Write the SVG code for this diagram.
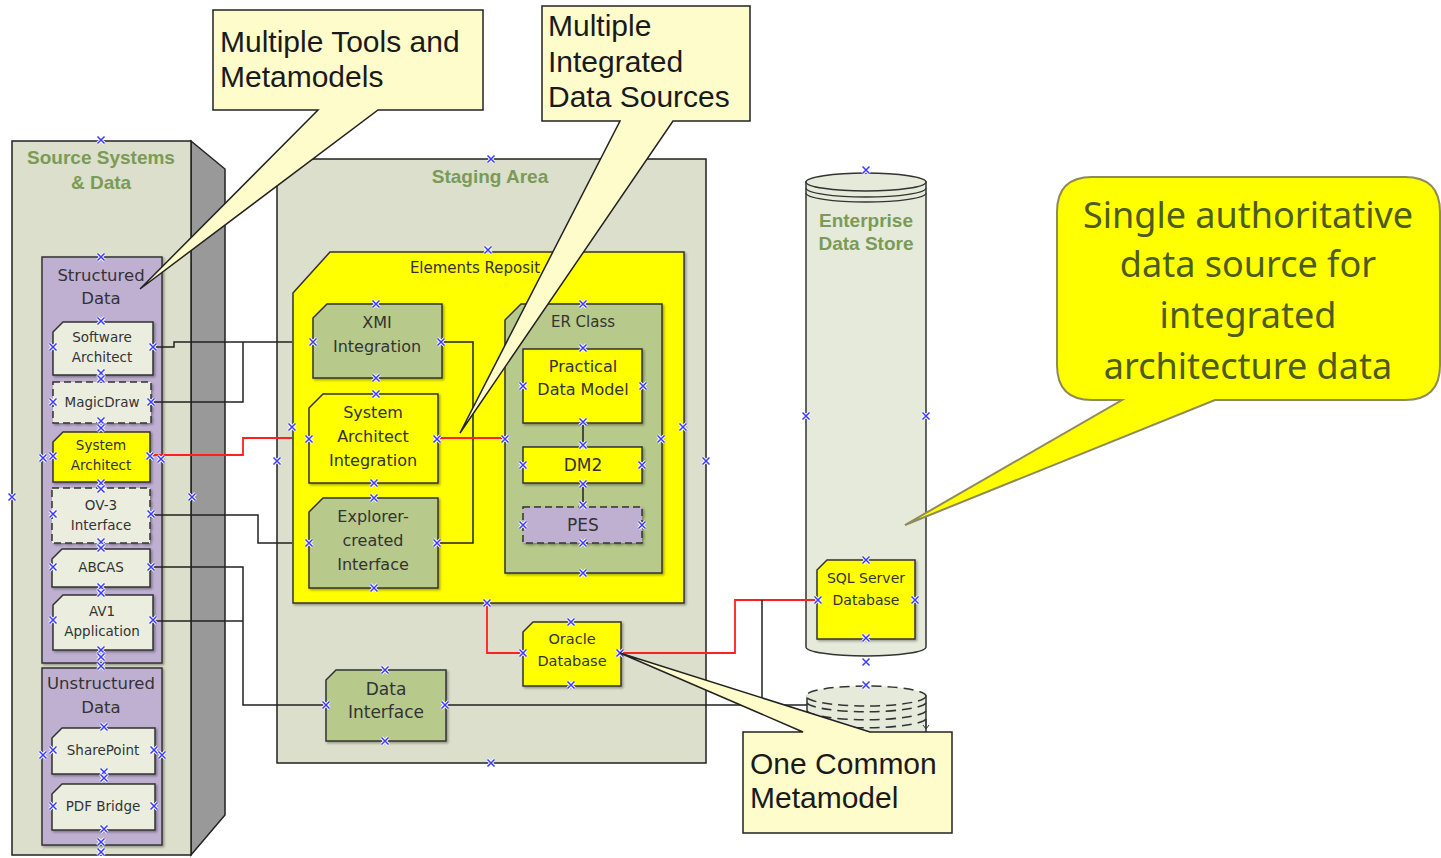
<svg xmlns="http://www.w3.org/2000/svg" xmlns:xlink="http://www.w3.org/1999/xlink" width="1441" height="858" viewBox="0 0 1441 858">
<defs>
<style>
.box{stroke:#333;stroke-width:1.5}
.lt{fill:#ebeedf}
.yl{fill:#ffff00}
.gr{fill:#b7c98b}
.lv{fill:#bfb0d2}
.dash{stroke-dasharray:7 4}
.t{font-family:"DejaVu Sans",Verdana,sans-serif;fill:#333;text-anchor:middle}
.s{font-size:13.5px}
.m{font-size:16px}
.ttl{font-family:"Liberation Sans",Arial,sans-serif;font-weight:bold;font-size:19px;fill:#7a9b57;text-anchor:middle}
.co{font-family:"Liberation Sans",Arial,sans-serif;font-size:30px;fill:#1a1a1a}
.big{font-family:"Noto Sans","Open Sans",sans-serif;font-size:36px;fill:#4d5b1e;text-anchor:middle}
.cn{fill:none;stroke:#222;stroke-width:1.5}
.rd{fill:none;stroke:#ff2020;stroke-width:1.8}
.call{fill:#fffccc;stroke:#222;stroke-width:1.5}
</style>
<filter id="sh" x="-10%" y="-10%" width="130%" height="130%"><feDropShadow dx="1.5" dy="1.5" stdDeviation="0.8" flood-color="#000" flood-opacity="0.35"/></filter>
<g id="mk"><path d="M-3.5,-3.5L3.5,3.5M-3.5,3.5L3.5,-3.5" stroke="#fff" stroke-width="3.2"/><path d="M-3.5,-3.5L3.5,3.5M-3.5,3.5L3.5,-3.5" stroke="#3b3bff" stroke-width="1.5"/></g>
</defs>
<rect width="1441" height="858" fill="#fff"/>

<g id="source-systems">
<polygon points="191,141 225,169 225,815 191,855" fill="#999" stroke="#222" stroke-width="1.5"/>
<rect x="12" y="141" width="179" height="714" fill="#dcdfcb" stroke="#222" stroke-width="1.5"/>
<text class="ttl" x="101" y="164">Source Systems</text>
<text class="ttl" x="101" y="189">&amp; Data</text>
</g>

<g id="structured-data">
<rect class="box lv" x="42" y="257" width="120" height="406" filter="url(#sh)"/>
<text class="t" style="font-size:16.5px" x="101" y="281">Structured</text>
<text class="t" style="font-size:16.5px" x="101" y="304">Data</text>
</g>
<g id="software-architect">
<path class="box lt" d="M53,332L63,322H153V375H53Z" filter="url(#sh)"/>
<text class="t s" x="102" y="342">Software</text><text class="t s" x="102" y="362">Architect</text>
</g>
<g id="magicdraw">
<rect class="box lt dash" x="53" y="382" width="98" height="41" filter="url(#sh)"/>
<text class="t s" x="102" y="407">MagicDraw</text>
</g>
<g id="system-architect">
<path class="box yl" d="M53,442L63,432H150V482H53Z" filter="url(#sh)"/>
<text class="t s" x="101" y="450">System</text><text class="t s" x="101" y="470">Architect</text>
</g>
<g id="ov3-interface">
<rect class="box lt dash" x="52" y="488" width="98" height="55" filter="url(#sh)"/>
<text class="t s" x="101" y="510">OV-3</text><text class="t s" x="101" y="530">Interface</text>
</g>
<g id="abcas">
<path class="box lt" d="M52,559L62,549H150V587H52Z" filter="url(#sh)"/>
<text class="t s" x="101" y="572">ABCAS</text>
</g>
<g id="av1-application">
<path class="box lt" d="M53,605L63,595H153V650H53Z" filter="url(#sh)"/>
<text class="t s" x="102" y="616">AV1</text><text class="t s" x="102" y="636">Application</text>
</g>
<g id="unstructured-data">
<rect class="box lv" x="42" y="668" width="120" height="177" filter="url(#sh)"/>
<text class="t" style="font-size:16.5px" x="101" y="689">Unstructured</text>
<text class="t" style="font-size:16.5px" x="101" y="713">Data</text>
</g>
<g id="sharepoint">
<path class="box lt" d="M52,738L62,728H155V774H52Z" filter="url(#sh)"/>
<text class="t s" x="103" y="755">SharePoint</text>
</g>
<g id="pdf-bridge">
<path class="box lt" d="M52,794L62,784H155V830H52Z" filter="url(#sh)"/>
<text class="t s" x="103" y="811">PDF Bridge</text>
</g>

<g id="staging-area">
<rect x="277" y="159" width="429" height="604" fill="#dcdfcb" stroke="#222" stroke-width="1.5"/>
<text class="ttl" x="490" y="183">Staging Area</text>
</g>
<g id="elements-repository">
<path class="box yl" d="M293,293L330,252H684V603H293Z" filter="url(#sh)"/>
<text class="t" style="font-size:15px" x="475" y="273">Elements Reposit</text>
</g>
<g id="xmi-integration">
<path class="box gr" d="M313,318L327,304H442V378H313Z" filter="url(#sh)"/>
<text class="t m" x="377" y="328">XMI</text><text class="t m" x="377" y="352">Integration</text>
</g>
<g id="system-architect-integration">
<path class="box yl" d="M309,408L323,394H438V483H309Z" filter="url(#sh)"/>
<text class="t m" x="373" y="418">System</text><text class="t m" x="373" y="442">Architect</text><text class="t m" x="373" y="466">Integration</text>
</g>
<g id="explorer-created-interface">
<path class="box gr" d="M309,512L323,498H438V588H309Z" filter="url(#sh)"/>
<text class="t m" x="373" y="522">Explorer-</text><text class="t m" x="373" y="546">created</text><text class="t m" x="373" y="570">Interface</text>
</g>
<g id="er-class">
<path class="box gr" d="M505,320L521,304H662V573H505Z" filter="url(#sh)"/>
<text class="t" style="font-size:15px" x="583" y="327">ER Class</text>
</g>
<g id="practical-data-model">
<rect class="box yl" x="523" y="349" width="119" height="74" filter="url(#sh)"/>
<text class="t m" x="583" y="372">Practical</text><text class="t m" x="583" y="395">Data Model</text>
</g>
<g id="dm2">
<rect class="box yl" x="523" y="447" width="119" height="36" filter="url(#sh)"/>
<text class="t" style="font-size:17px" x="583" y="471">DM2</text>
</g>
<g id="pes">
<rect class="box lv dash" x="523" y="507" width="119" height="36" filter="url(#sh)"/>
<text class="t" style="font-size:17px" x="583" y="531">PES</text>
</g>
<g id="oracle-database">
<path class="box yl" d="M523,632L533,622H621V686H523Z" filter="url(#sh)"/>
<text class="t" style="font-size:14.5px" x="572" y="644">Oracle</text><text class="t" style="font-size:14.5px" x="572" y="666">Database</text>
</g>
<g id="data-interface">
<path class="box gr" d="M326,680L336,670H446V741H326Z" filter="url(#sh)"/>
<text class="t" style="font-size:17px" x="386" y="695">Data</text><text class="t" style="font-size:17px" x="386" y="718">Interface</text>
</g>

<g id="enterprise-data-store">
<path d="M806,182V647A60,9 0 0 0 926,647V182Z" fill="#e6eadb" stroke="#333" stroke-width="1.5"/>
<ellipse cx="866" cy="182" rx="60" ry="9" fill="#e6eadb" stroke="#333" stroke-width="1.5"/>
<path d="M806,188A60,9 0 0 0 926,188M806,193A60,9 0 0 0 926,193" fill="none" stroke="#333" stroke-width="1.3"/>
<text class="ttl" x="866" y="227">Enterprise</text>
<text class="ttl" x="866" y="250">Data Store</text>
</g>
<g id="sql-server-database">
<path class="box yl" d="M817,570L827,560H915V639H817Z" filter="url(#sh)"/>
<text class="t" style="font-size:14px" x="866" y="583">SQL Server</text><text class="t" style="font-size:14px" x="866" y="605">Database</text>
</g>
<g id="backup-store">
<path d="M807,696V735H926V696Z" fill="#e6eadb" stroke="#333" stroke-width="1.5"/>
<ellipse cx="866" cy="696" rx="60" ry="10" fill="#e6eadb" stroke="#333" stroke-width="1.5" stroke-dasharray="10 6"/>
<path d="M807,703A60,10 0 0 0 926,703M807,711A60,10 0 0 0 926,711M807,719A60,10 0 0 0 926,719" fill="none" stroke="#333" stroke-width="1.6" stroke-dasharray="10 6"/>
<path d="M926,719V729M923,725L926,729L929,725" fill="none" stroke="#333" stroke-width="1"/>
</g>

<g id="connectors">
<path class="cn" d="M153,347H174V342H292"/>
<path class="cn" d="M150,402H243V342"/>
<path class="rd" d="M150,455H243V438H292"/>
<path class="cn" d="M150,515H258V543H292"/>
<path class="cn" d="M150,567H243V705H326"/>
<path class="cn" d="M152,621H243"/>
<path class="cn" d="M441,342H473V543H437"/>
<path class="rd" d="M437,438H505"/>
<path class="cn" d="M583,423V447M583,483V507"/>
<path class="rd" d="M487,603V653H523"/>
<path class="rd" d="M620,653H735V600H817"/>
<path class="cn" d="M445,705H807M762,705V600"/>
</g>

<g id="markers">
<use href="#mk" x="101" y="140"/><use href="#mk" x="101" y="257"/><use href="#mk" x="101" y="321"/>
<use href="#mk" x="53" y="347"/><use href="#mk" x="153" y="347"/><use href="#mk" x="101" y="373"/><use href="#mk" x="101" y="379"/>
<use href="#mk" x="53" y="402"/><use href="#mk" x="151" y="402"/><use href="#mk" x="101" y="421"/><use href="#mk" x="101" y="428"/>
<use href="#mk" x="43" y="458"/><use href="#mk" x="53" y="456"/><use href="#mk" x="150" y="456"/><use href="#mk" x="161" y="459"/>
<use href="#mk" x="101" y="483"/><use href="#mk" x="101" y="489"/><use href="#mk" x="12" y="497"/><use href="#mk" x="192" y="497"/>
<use href="#mk" x="53" y="514"/><use href="#mk" x="151" y="514"/><use href="#mk" x="101" y="542"/><use href="#mk" x="101" y="548"/>
<use href="#mk" x="53" y="567"/><use href="#mk" x="151" y="567"/><use href="#mk" x="101" y="587"/><use href="#mk" x="101" y="593"/>
<use href="#mk" x="53" y="620"/><use href="#mk" x="153" y="620"/><use href="#mk" x="101" y="650"/><use href="#mk" x="101" y="657"/><use href="#mk" x="101" y="666"/>
<use href="#mk" x="104" y="727"/><use href="#mk" x="53" y="750"/><use href="#mk" x="43" y="755"/><use href="#mk" x="154" y="750"/><use href="#mk" x="162" y="755"/>
<use href="#mk" x="104" y="772"/><use href="#mk" x="104" y="778"/><use href="#mk" x="53" y="806"/><use href="#mk" x="154" y="806"/>
<use href="#mk" x="104" y="829"/><use href="#mk" x="101" y="842"/><use href="#mk" x="101" y="852"/>
<use href="#mk" x="491" y="159"/><use href="#mk" x="488" y="250"/><use href="#mk" x="376" y="304"/><use href="#mk" x="313" y="342"/><use href="#mk" x="441" y="342"/>
<use href="#mk" x="376" y="378"/><use href="#mk" x="376" y="394"/><use href="#mk" x="292" y="427"/><use href="#mk" x="309" y="439"/><use href="#mk" x="437" y="439"/>
<use href="#mk" x="277" y="461"/><use href="#mk" x="374" y="483"/><use href="#mk" x="374" y="498"/><use href="#mk" x="309" y="543"/><use href="#mk" x="437" y="543"/><use href="#mk" x="374" y="588"/>
<use href="#mk" x="583" y="304"/><use href="#mk" x="583" y="348"/><use href="#mk" x="523" y="386"/><use href="#mk" x="643" y="386"/><use href="#mk" x="505" y="439"/>
<use href="#mk" x="583" y="422"/><use href="#mk" x="583" y="445"/><use href="#mk" x="661" y="439"/><use href="#mk" x="683" y="427"/><use href="#mk" x="706" y="461"/>
<use href="#mk" x="523" y="465"/><use href="#mk" x="642" y="465"/><use href="#mk" x="583" y="484"/><use href="#mk" x="583" y="505"/>
<use href="#mk" x="523" y="525"/><use href="#mk" x="642" y="525"/><use href="#mk" x="583" y="543"/><use href="#mk" x="583" y="573"/>
<use href="#mk" x="487" y="603"/><use href="#mk" x="571" y="622"/><use href="#mk" x="523" y="653"/><use href="#mk" x="620" y="653"/><use href="#mk" x="571" y="685"/>
<use href="#mk" x="385" y="670"/><use href="#mk" x="326" y="705"/><use href="#mk" x="445" y="705"/><use href="#mk" x="385" y="741"/><use href="#mk" x="491" y="763"/>
<use href="#mk" x="866" y="170"/><use href="#mk" x="806" y="416"/><use href="#mk" x="926" y="416"/><use href="#mk" x="866" y="560"/>
<use href="#mk" x="818" y="600"/><use href="#mk" x="915" y="600"/><use href="#mk" x="866" y="638"/><use href="#mk" x="866" y="662"/><use href="#mk" x="866" y="685"/>
</g>

<g id="callout-tools">
<path class="call" d="M213,10H483V110H378L140,289L318,110H213Z"/>
<text class="co" x="220" y="52">Multiple Tools and</text>
<text class="co" x="220" y="87">Metamodels</text>
</g>
<g id="callout-sources">
<path class="call" d="M542,6H750V121H673L460,433L620,121H542Z"/>
<text class="co" x="548" y="36">Multiple</text>
<text class="co" x="548" y="72">Integrated</text>
<text class="co" x="548" y="107">Data Sources</text>
</g>
<g id="callout-metamodel">
<path class="call" d="M743,732H803L620,653L870,732H952V833H743Z"/>
<text class="co" x="750" y="774">One Common</text>
<text class="co" x="750" y="808">Metamodel</text>
</g>
<g id="callout-authoritative">
<path d="M1092,177H1405Q1440,177 1440,212V365Q1440,400 1405,400H1215L905,525L1122,400H1092Q1057,400 1057,365V212Q1057,177 1092,177Z" fill="#ffff00" stroke="#8f8a5a" stroke-width="2"/>
<text class="big" x="1248" y="228">Single authoritative</text>
<text class="big" x="1248" y="277">data source for</text>
<text class="big" x="1248" y="328">integrated</text>
<text class="big" x="1248" y="379">architecture data</text>
</g>
</svg>
